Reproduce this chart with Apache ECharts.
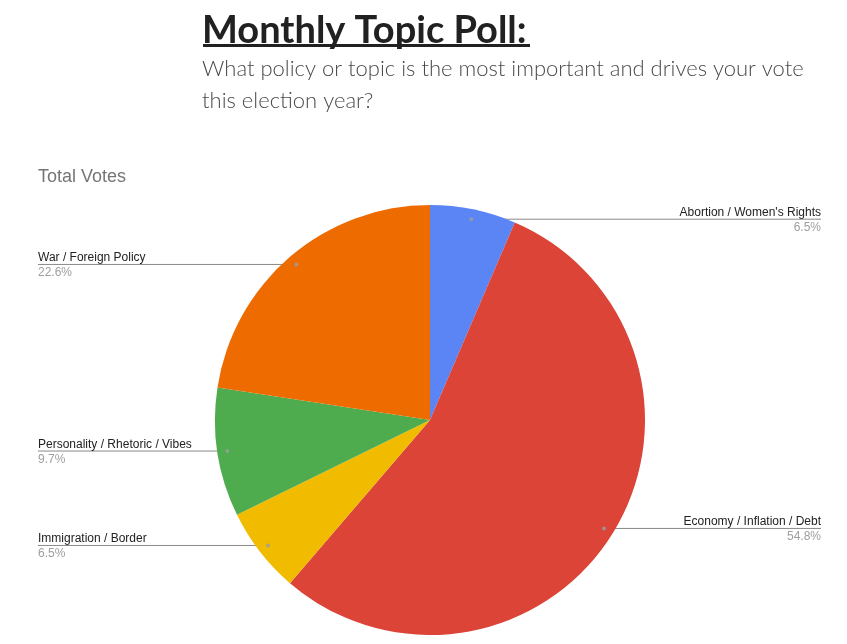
<!DOCTYPE html>
<html>
<head>
<meta charset="utf-8">
<script src="https://cdn.jsdelivr.net/npm/echarts@6/dist/echarts.min.js"></script>
<style>
html,body{margin:0;padding:0;background:#fff;}
#c{width:847px;height:644px;}
</style>
</head>
<body>
<div id="c"></div>
<script>
// ---- data ----
const categories = ['Abortion / Women\'s Rights', 'Economy / Inflation / Debt', 'Immigration / Border', 'Personality / Rhetoric / Vibes', 'War / Foreign Policy'];
const votes = [2, 17, 2, 3, 7];
const colors = ['#5b84f5', '#db4437', '#f1bb00', '#4eab4e', '#ee6b00'];
const titleText = 'Monthly Topic Poll:';
const subtitleLines = ['What policy or topic is the most important and drives your vote', 'this election year?'];
const chartTitle = 'Total Votes';

const total = votes.reduce((a, b) => a + b, 0);
// mid-angle positions (in vote units) for the small marker dots
const dotData = [];
let acc = 0;
votes.forEach(v => { dotData.push([1, acc + v / 2]); acc += v; });

const chart = echarts.init(document.getElementById('c'));
const CX = 430, CY = 420, R = 215, RD = 205;

chart.setOption({
  backgroundColor: '#fff',
  animation: false,
  title: {
    text: chartTitle, left: 33, top: 163,
    textStyle: { fontFamily: 'Liberation Sans, Arial', fontSize: 18, fontWeight: 'normal', color: '#757575' }
  },
  graphic: [
    { type: 'text', left: 202, top: 12, style: { text: titleText, font: 'bold 38px Lato, "Open Sans", sans-serif', fill: '#212121' } },
    { type: 'rect', left: 203, top: 44, shape: { width: 327, height: 3 }, style: { fill: '#212121' } },
    { type: 'text', left: 202, top: 53, style: { text: subtitleLines.join('\n'), font: '300 22px Lato, "Open Sans", sans-serif', fill: '#4a4a4a', lineHeight: 32 } }
  ],
  polar: { center: [CX, CY], radius: RD },
  angleAxis: { type: 'value', min: 0, max: total, startAngle: 90, clockwise: true, show: false },
  radiusAxis: { type: 'value', min: 0, max: 1, show: false },
  series: [
    {
      type: 'pie', center: [CX, CY], radius: R, startAngle: 90, clockwise: true,
      label: { show: false }, labelLine: { show: false }, silent: true,
      itemStyle: { borderWidth: 0 },
      data: categories.map((c, i) => ({ name: c, value: votes[i], itemStyle: { color: colors[i] } }))
    },
    {
      type: 'pie', center: [CX, CY], radius: RD, startAngle: 90, clockwise: true, silent: true,
      itemStyle: { color: 'rgba(0,0,0,0)' },
      emphasis: { disabled: true },
      label: {
        show: true,
        formatter: p => '{n|' + p.name + '}\n{p|' + p.percent.toFixed(1) + '%}',
        rich: {
          n: { fontFamily: 'Liberation Sans, Arial', fontSize: 12, color: '#222', lineHeight: 15 },
          p: { fontFamily: 'Liberation Sans, Arial', fontSize: 12, color: '#9e9e9e', lineHeight: 15 }
        }
      },
      labelLine: { show: true, length: 0, length2: 10, lineStyle: { color: '#8a8a8a', width: 1 } },
      labelLayout: function (params) {
        const p0 = params.labelLinePoints[0];
        const left = p0[0] < CX;
        const ex = left ? 38 : 821;
        return {
          x: ex, y: p0[1] + 1,
          align: left ? 'left' : 'right',
          verticalAlign: 'middle',
          labelLinePoints: [[p0[0], p0[1]], [ex, p0[1]], [ex, p0[1]]]
        };
      },
      data: categories.map((c, i) => ({ name: c, value: votes[i] }))
    },
    {
      type: 'scatter', coordinateSystem: 'polar', symbolSize: 4, silent: true,
      itemStyle: { color: '#9e9e9e' },
      data: dotData
    }
  ]
});
</script>
</body>
</html>
